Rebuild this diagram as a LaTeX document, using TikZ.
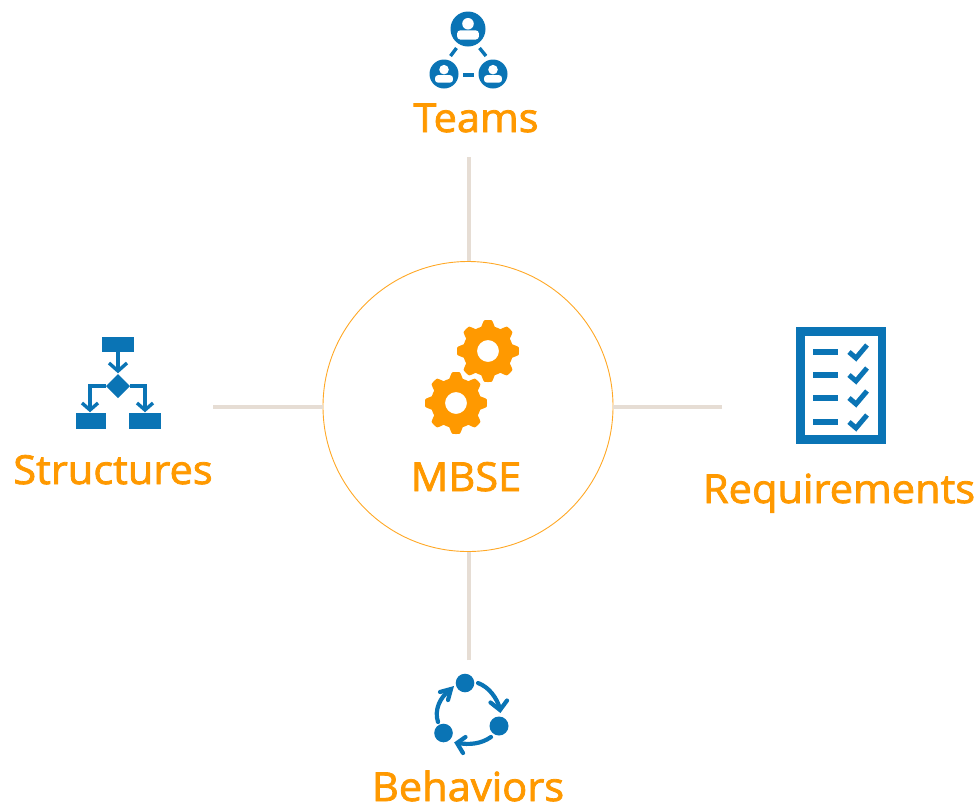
\documentclass[tikz,border=0pt]{standalone}
\usepackage{fontspec}
\newfontfamily\lblfont{Open Sans}[FakeBold=2,FakeStretch=1.04]
\definecolor{ora}{HTML}{FF9900}
\definecolor{blu}{HTML}{0A74B5}
\definecolor{spk}{HTML}{E6DDD4}
\tikzset{
  lbl/.style={text=ora,font=\lblfont\fontsize{40}{40}\selectfont,anchor=base,inner sep=0pt},
  spoke/.style={draw=spk,line width=3.2pt},
  icn/.style={draw=blu,line width=3.4pt},
  barb/.style={draw=blu,line width=4.2pt,line join=miter,line cap=round},
  hub/.style={circle,draw=ora!85!white,line width=0.9pt,minimum size=290pt,inner sep=0pt}
}
\newcommand{\gearat}[2]{%
  \fill[ora,even odd rule] plot[domain=0:360,samples=193,smooth] ({#1+(25+6*min(1,max(0,0.5+0.9*cos(8*\x))))*cos(\x)},{#2+(25+6*min(1,max(0,0.5+0.9*cos(8*\x))))*sin(\x)}) -- cycle
   (#1+11,#2) .. controls (#1+11,#2+6) and (#1+6,#2+11) .. (#1,#2+11) .. controls (#1-6,#2+11) and (#1-11,#2+6) .. (#1-11,#2) .. controls (#1-11,#2-6) and (#1-6,#2-11) .. (#1,#2-11) .. controls (#1+6,#2-11) and (#1+11,#2-6) .. (#1+11,#2) -- cycle;}
\newcommand{\personat}[3]{% cx cy r
  \fill[blu] (#1,#2) circle[radius=#3pt];
  \fill[white] (#1,#2-#3*0.30) circle[radius=#3*0.33pt];
  \fill[white,rounded corners=3pt] (#1-#3*0.62,#2+#3*0.60) rectangle (#1+#3*0.62,#2+#3*0.08);}
\newcommand{\chkline}[1]{%
  \fill[blu] (813,#1-2.8) rectangle (838,#1+2.8);
  \draw[blu,line width=5pt] (849,#1) -- (856,#1+6) -- (867,#1-7);}
\begin{document}
\begin{tikzpicture}[x=1pt,y=-1pt]
\useasboundingbox (0,0) rectangle (979,807);
% hub and labels
\node[hub] (mbse) at (468,406.5) {};
\coordinate (teamsEnd) at (469,157);
\coordinate (structEnd) at (213,407);
\coordinate (reqEnd) at (722,407);
\coordinate (behEnd) at (469,660);
\draw[spoke] (teamsEnd) -- (teamsEnd |- mbse.north);
\draw[spoke] (structEnd) -- (mbse.west |- structEnd);
\draw[spoke] (reqEnd) -- (mbse.east |- reqEnd);
\draw[spoke] (behEnd) -- (behEnd |- mbse.south);
\node[lbl] (mbsel) at (466,491) {MBSE};
\node[lbl] (teams) at (476,132) {Teams};
\node[lbl] (structures) at (113,484) {Structures};
\node[lbl] (requirements) at (839,503) {Requirements};
\node[lbl] (behaviors) at (468,801) {Behaviors};
% gears
\gearat{488}{351}
\gearat{456}{403}
% teams icon
\personat{468}{29}{17.5}
\personat{444}{74}{14.5}
\personat{493}{74}{14.5}
\draw[icn] (450.5,56) -- (456.5,48);
\draw[icn] (479.5,48) -- (486,56);
\draw[icn] (463,75) -- (474,75);
% structures icon
\fill[blu] (102,337) rectangle (134,352);
\fill[blu] (76,413) rectangle (106,429);
\fill[blu] (129,413) rectangle (161,429);
\fill[blu] (118,374) -- (130,386) -- (118,398) -- (106,386) -- cycle;
\draw[icn] (118,352) -- (118,370);
\draw[icn,line join=miter] (109,363) -- (118,371) -- (127,363);
\draw[icn] (106,386) -- (90,386) -- (90,409);
\draw[icn] (130,386) -- (145,386) -- (145,409);
\draw[icn] (82,403) -- (90,410) -- (98,403);
\draw[icn] (137,403) -- (145,410) -- (153,403);
% requirements icon
\draw[blu,line width=8.5pt] (800.5,331.5) rectangle (882,439.5);
\chkline{352}
\chkline{375}
\chkline{398}
\chkline{422}
% behaviors icon
\fill[blu] (465,683) circle[radius=9.3pt];
\fill[blu] (499,726) circle[radius=9.5pt];
\fill[blu] (443.5,733) circle[radius=9.3pt];
\draw[barb] (478,683) .. controls (489,687) and (497,698) .. (500,709);
\draw[barb] (490.5,702.5) -- (500,710) -- (507,700.5);
\draw[barb] (491,737) .. controls (481,744) and (469,745) .. (458,743);
\draw[barb] (465.5,737) -- (457,743) -- (463,753);
\draw[barb] (438,722) .. controls (434,710) and (440,697) .. (450,690);
\draw[barb] (440,692) -- (451,689) -- (448,700);
\end{tikzpicture}
\end{document}
